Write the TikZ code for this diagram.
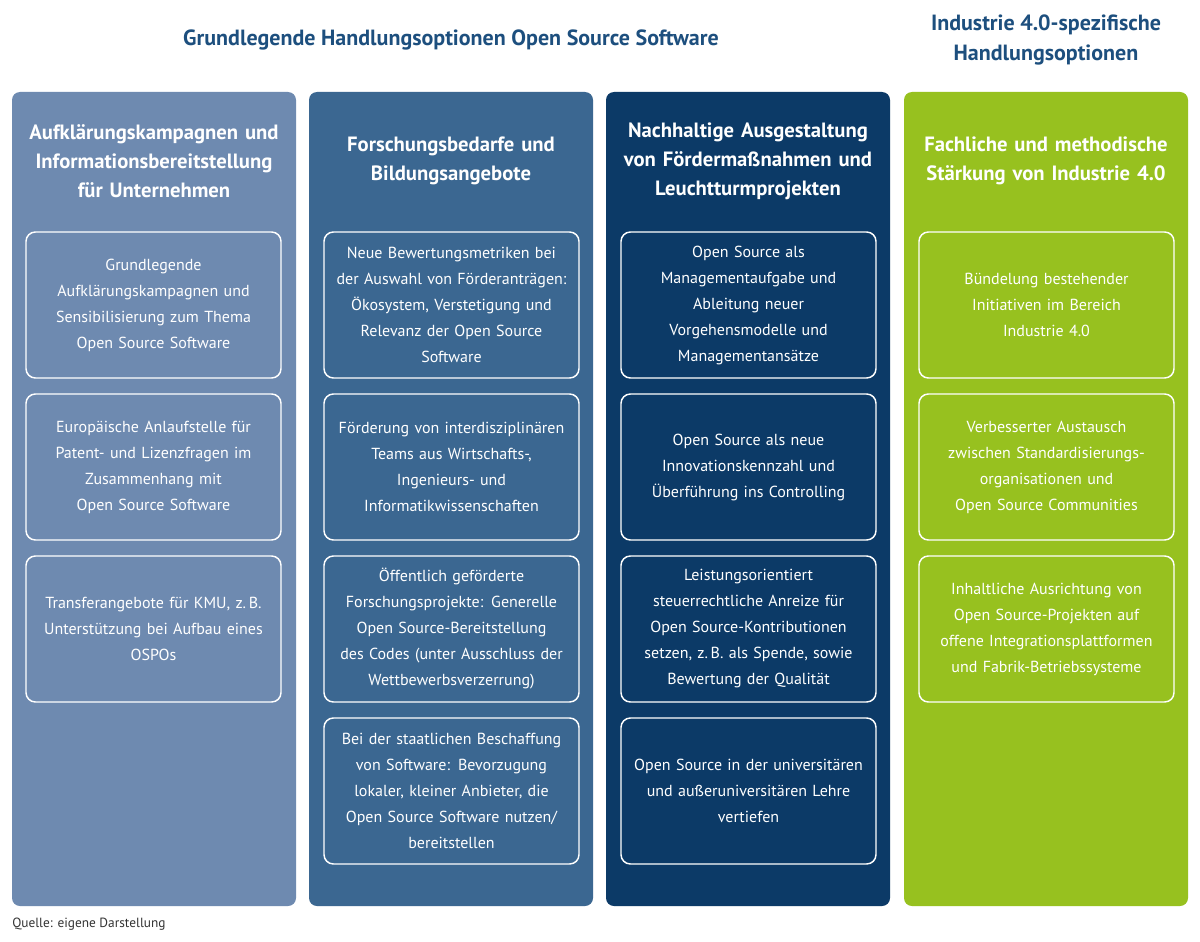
\documentclass[tikz,border=0pt]{standalone}
\usepackage{fontspec}
\setmainfont{PT Sans}
\definecolor{cA}{HTML}{6E8AB0}
\definecolor{cB}{HTML}{3B6791}
\definecolor{cC}{HTML}{0C3A67}
\definecolor{cD}{HTML}{97C11F}
\definecolor{tblue}{HTML}{1D4F7E}
\begin{document}
\begin{tikzpicture}[x=0.75pt,y=-0.75pt,
  col/.style={rounded corners=6pt,inner sep=0pt},
  card/.style={draw=white,line width=1.1pt,rounded corners=7pt,minimum width=191.25pt,minimum height=109.5pt,text width=185pt,align=center,text=white,font=\fontsize{12}{19.5}\selectfont,inner sep=0pt},
  head/.style={text=white,align=center,text width=205pt,font=\bfseries\fontsize{15.5}{21.75}\selectfont},
  title/.style={text=tblue,align=center,font=\bfseries\fontsize{16.5}{22}\selectfont}]
\useasboundingbox (0,0) rectangle (1200,942);
\fill[white] (0,0) rectangle (1200,942);
\node[title] (t1) at (451,40) {Grundlegende Handlungsoptionen Open Source Software};
\node[title] (t2) at (1046,40) {Industrie 4.0-spezifische\\Handlungsoptionen};
\fill[cA,col] (12,92) rectangle (296,906);
\fill[cB,col] (309,92) rectangle (593,906);
\fill[cC,col] (606,92) rectangle (890,906);
\fill[cD,col] (904,92) rectangle (1188,906);
\node[head] (h1) at (154,161) {Aufklärungskampagnen und\\Informationsbereitstellung\\für Unternehmen};
\node[head] (h2) at (451,161) {Forschungsbedarfe und\\Bildungsangebote};
\node[head] (h3) at (748,161) {Nachhaltige Ausgestaltung\\von Fördermaßnahmen und\\Leuchtturmprojekten};
\node[head] (h4) at (1046,161) {Fachliche und methodische\\Stärkung von Industrie 4.0};
% column 1
\node[card] (a1) at (153.5,305) {Grundlegende\\Aufklärungskampagnen und\\Sensibilisierung zum Thema\\Open Source Software};
\node[card] (a2) at (153.5,467) {Europäische Anlaufstelle für\\Patent- und Lizenzfragen im\\Zusammenhang mit\\Open Source Software};
\node[card] (a3) at (153.5,629) {Transferangebote für KMU, z.\,B.\\Unterstützung bei Aufbau eines\\OSPOs};
% column 2
\node[card] (b1) at (451.5,305) {Neue Bewertungsmetriken bei\\der Auswahl von Förderanträgen:\\Ökosystem, Verstetigung und\\Relevanz der Open Source\\Software};
\node[card] (b2) at (451.5,467) {Förderung von interdisziplinären\\Teams aus Wirtschafts-,\\Ingenieurs- und\\Informatikwissenschaften};
\node[card] (b3) at (451.5,629) {Öffentlich geförderte\\Forschungsprojekte: Generelle\\Open Source-Bereitstellung\\des Codes (unter Ausschluss der\\Wettbewerbsverzerrung)};
\node[card] (b4) at (451.5,791) {Bei der staatlichen Beschaffung\\von Software: Bevorzugung\\lokaler, kleiner Anbieter, die\\Open Source Software nutzen/\\bereitstellen};
% column 3
\node[card] (c1) at (748.5,305) {Open Source als\\Managementaufgabe und\\Ableitung neuer\\Vorgehensmodelle und\\Managementansätze};
\node[card] (c2) at (748.5,467) {Open Source als neue\\Innovationskennzahl und\\Überführung ins Controlling};
\node[card] (c3) at (748.5,629) {Leistungsorientiert\\steuerrechtliche Anreize für\\Open Source-Kontributionen\\setzen, z.\,B. als Spende, sowie\\Bewertung der Qualität};
\node[card] (c4) at (748.5,791) {Open Source in der universitären\\und außeruniversitären Lehre\\vertiefen};
% column 4
\node[card] (d1) at (1046.5,305) {Bündelung bestehender\\Initiativen im Bereich\\Industrie 4.0};
\node[card] (d2) at (1046.5,467) {Verbesserter Austausch\\zwischen Standardisierungs-\\organisationen und\\Open Source Communities};
\node[card] (d3) at (1046.5,629) {Inhaltliche Ausrichtung von\\Open Source-Projekten auf\\offene Integrationsplattformen\\und Fabrik-Betriebssysteme};
\node[anchor=west,font=\fontsize{10}{12}\selectfont,text=black!80,inner sep=0pt] (src) at (12,924) {Quelle: eigene Darstellung};
\end{tikzpicture}
\end{document}
